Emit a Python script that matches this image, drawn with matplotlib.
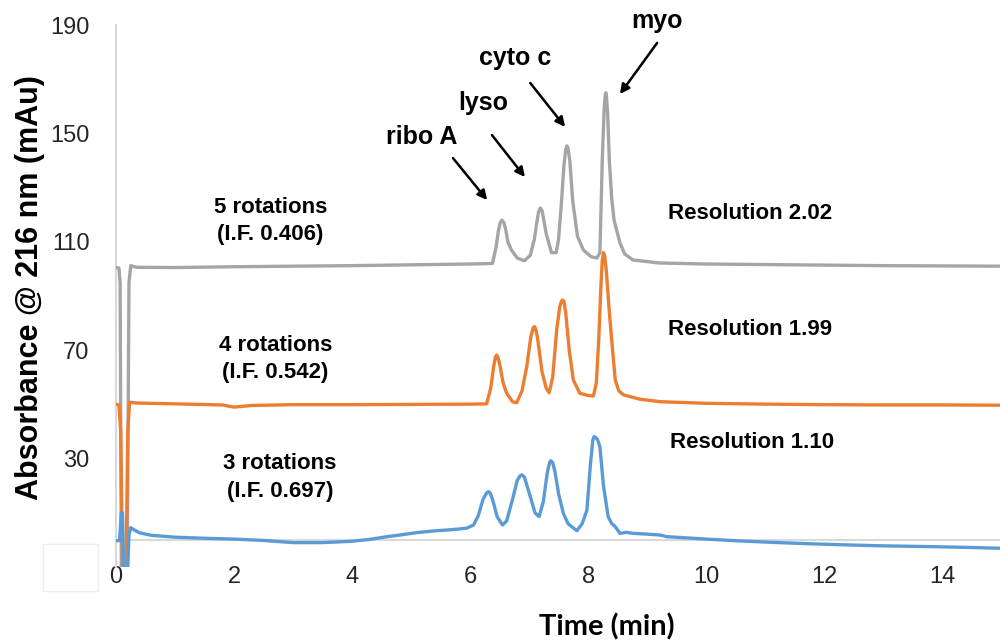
import matplotlib
matplotlib.use('Agg')
import matplotlib.pyplot as plt
from matplotlib.patches import Rectangle

plt.rcParams['font.family'] = ['Liberation Sans', 'DejaVu Sans']

# 5 rotations (grey)
g_t = [0.00, 0.05, 0.07, 0.09, 0.19, 0.22, 0.25, 0.35, 1.0, 2.0, 3.0, 4.0, 5.0, 6.0,
       6.38, 6.44, 6.48, 6.51, 6.54, 6.57, 6.60, 6.64, 6.70, 6.80, 6.92, 7.02, 7.09, 7.13,
       7.16, 7.19, 7.22, 7.25, 7.29, 7.38, 7.46, 7.50, 7.55, 7.59, 7.62, 7.64, 7.66, 7.69,
       7.74, 7.82, 7.92, 8.05, 8.15, 8.20, 8.24, 8.27, 8.29, 8.30, 8.31, 8.33, 8.36, 8.40,
       8.44, 8.54, 8.62, 8.76, 9.2, 10, 11, 12, 13, 14, 15]
g_v = [100.5, 100.3, 95, -10, -10, 95, 101.2, 100.6, 100.5, 100.8, 101.0, 101.2, 101.5, 101.8,
       102.0, 108, 114, 117, 118, 117.2, 115, 110, 107, 104, 103, 105, 111, 117,
       121, 122.5, 121.5, 118, 113, 106, 106, 111, 125, 138, 144, 145.4, 144.5, 140,
       125, 112, 107, 104.5, 104, 106, 140, 158, 164, 165, 164, 158, 140, 126,
       118, 109.6, 105.5, 103.3, 102.2, 101.8, 101.6, 101.4, 101.2, 101.1, 101.0]

# 4 rotations (orange)
o_t = [0.00, 0.05, 0.08, 0.11, 0.17, 0.20, 0.23, 0.35, 1.0, 1.8, 2.0, 2.3, 3.0, 4.0, 5.0,
       6.0, 6.28, 6.35, 6.40, 6.43, 6.45, 6.47, 6.50, 6.56, 6.62, 6.72, 6.79, 6.88, 6.96,
       7.03, 7.07, 7.09, 7.11, 7.14, 7.22, 7.29, 7.34, 7.40, 7.47, 7.52, 7.55, 7.57, 7.59,
       7.62, 7.68, 7.75, 7.86, 8.00, 8.09, 8.14, 8.18, 8.22, 8.24, 8.26, 8.28, 8.31, 8.36,
       8.40, 8.46, 8.52, 8.60, 8.88, 9.22, 10, 11, 12, 13, 14, 15]
o_v = [50.0, 49.8, 40, -10, -10, 40, 50.8, 50.5, 50.2, 49.8, 49.0, 49.6, 49.9, 49.9, 50.0,
       50.1, 50.2, 56, 64, 67.5, 68.2, 67.5, 65, 58, 54.1, 51, 50.6, 55, 63.9,
       75, 78.3, 78.7, 78, 75, 62, 56, 54.3, 60, 78, 86, 88.2, 88.5, 88, 84,
       70, 59, 54.1, 53.3, 53.1, 58, 73.8, 95, 103, 106, 105, 99, 84,
       73.8, 59, 55, 53.5, 51.9, 51.0, 50.4, 50.1, 49.9, 49.8, 49.8, 49.7]

# 3 rotations (blue)
b_t = [0.00, 0.06, 0.09, 0.11, 0.13, 0.20, 0.22, 0.25, 0.30, 0.40, 0.6, 1.0, 1.5, 2.0,
       2.5, 3.0, 3.5, 4.0, 4.3, 4.6, 4.81, 5.1, 5.38, 5.7, 5.94, 6.06, 6.14, 6.22, 6.28,
       6.31, 6.34, 6.38, 6.46, 6.55, 6.62, 6.72, 6.80, 6.85, 6.88, 6.92, 7.02, 7.10, 7.17,
       7.24, 7.31, 7.35, 7.37, 7.40, 7.44, 7.50, 7.58, 7.66, 7.72, 7.81, 7.90, 7.98, 8.04,
       8.08, 8.10, 8.13, 8.16, 8.20, 8.26, 8.34, 8.40, 8.46, 8.54, 8.65, 8.77, 8.95, 9.22,
       9.33, 10.0, 10.5, 11.0, 11.59, 12.3, 13.0, 13.85, 14.5, 15.0]
b_v = [-0.3, -0.2, 10, 10, -10, -10, 2, 4.5, 3.8, 2.6, 1.7, 1.0, 0.6, 0.3,
       -0.2, -1.0, -1.0, -0.5, 0.2, 1.2, 1.8, 2.7, 3.3, 3.8, 4.3, 5.5, 9, 15, 17.3,
       17.8, 17.3, 15, 8.5, 5.5, 7, 15, 22, 23.7, 24, 23.2, 16, 10, 8.6,
       14, 25, 28.7, 29.2, 28.5, 25, 17, 9.8, 6, 4.9, 3.4, 6, 11, 28,
       36.8, 38.1, 37.8, 37, 34.4, 20, 8.6, 6, 4.9, 2.4, 2.8, 2.4, 2.2, 1.8,
       1.2, 0.3, -0.3, -0.8, -1.3, -1.8, -2.2, -2.5, -2.8, -3.1]

xticks = [0, 2, 4, 6, 8, 10, 12, 14]
yticks = [-10, 30, 70, 110, 150, 190]

rot_labels = ['5 rotations\n(I.F. 0.406)', '4 rotations\n(I.F. 0.542)', '3 rotations\n(I.F. 0.697)']
res_labels = ['Resolution 2.02', 'Resolution 1.99', 'Resolution 1.10']
peak_names = ['ribo A', 'lyso', 'cyto c', 'myo']

fig = plt.figure(figsize=(10, 6.42), dpi=100)
ax = fig.add_axes([0.116, 1 - 567 / 642, 0.884, 542 / 642])

ax.plot(g_t, g_v, color='#A5A5A5', lw=2.4, zorder=3)
ax.plot(o_t, o_v, color='#ED7D31', lw=2.4, zorder=3)
ax.plot(b_t, b_v, color='#5B9BD5', lw=2.4, zorder=3)

ax.set_xlim(0, 14.98)
ax.set_ylim(-10, 190)
ax.set_xticks(xticks)
ax.set_yticks(yticks)
ax.tick_params(axis='both', length=0, labelsize=17, labelcolor='#262626')
ax.tick_params(axis='y', pad=19)
ax.tick_params(axis='x', pad=-1)
for s in ['top', 'right', 'bottom']:
    ax.spines[s].set_visible(False)
ax.spines['left'].set_color('#D9D9D9')
ax.spines['left'].set_linewidth(1.5)
ax.axhline(0, color='#D9D9D9', lw=1.5, zorder=1)

# trace labels
for lab, (x, y) in zip(rot_labels, [(2.62, 117.6), (2.70, 66.8), (2.78, 23.0)]):
    ax.text(x, y, lab, ha='center', va='center', fontsize=16, fontweight='bold',
            linespacing=1.4)
for lab, (x, y) in zip(res_labels, [(9.36, 120.6), (9.36, 77.5), (9.39, 35.8)]):
    ax.text(x, y, lab, ha='left', va='center', fontsize=16, fontweight='bold')

# peak arrows
text_pos = [(5.18, 148.7), (6.22, 161.2), (6.76, 177.8), (9.17, 191.3)]
arrow_from = [(5.71, 140.9), (6.37, 149.4), (7.02, 168.6), (9.17, 183.4)]
arrow_to = [(6.29, 125.4), (6.93, 133.9), (7.61, 152.4), (8.54, 164.5)]
for name, tp, a0, a1 in zip(peak_names, text_pos, arrow_from, arrow_to):
    ax.text(tp[0], tp[1], name, ha='center', va='center', fontsize=18,
            fontweight='bold', clip_on=False)
    ax.annotate('', xy=a1, xytext=a0,
                arrowprops=dict(arrowstyle='-|>', color='black', lw=1.8,
                                mutation_scale=14, shrinkA=0, shrinkB=0))

fig.text(0.03, 1 - 288 / 642, 'Absorbance @ 216 nm (mAu)', rotation=90,
         ha='center', va='center', fontsize=22, fontweight='bold')
fig.text(0.607, 1 - 627 / 642, 'Time (min)', ha='center', va='center',
         fontsize=21, fontweight='bold', family=['Lato', 'DejaVu Sans'])

# blank box over the lowest y label
fig.patches.append(Rectangle((43 / 1000, 1 - 591 / 642), 55 / 1000, 47 / 642,
                             transform=fig.transFigure, facecolor='white',
                             edgecolor='#EEEEEE', lw=1, zorder=5))

plt.savefig('out.png')
